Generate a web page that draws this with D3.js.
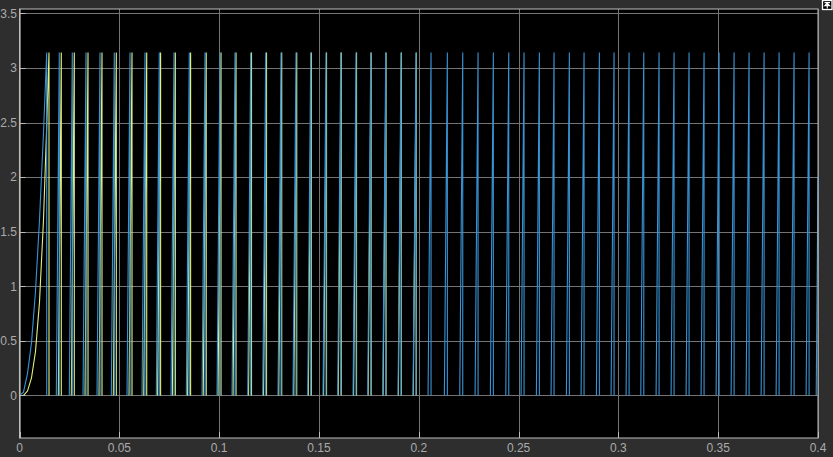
<!DOCTYPE html>
<html>
<head>
<meta charset="utf-8">
<script src="https://cdn.jsdelivr.net/npm/d3@7"></script>
<style>
  html, body { margin: 0; padding: 0; background: #2e2e2e; }
  svg { display: block; }
  .tick-label { font-family: "Liberation Sans", Arial, sans-serif; font-size: 12px; fill: #ababab; }
</style>
</head>
<body>
<svg id="scope" width="833" height="457"></svg>
<script>
// iffy wrapper
(function() {

// axis ticks
var xTicks = [0, 0.05, 0.1, 0.15, 0.2, 0.25, 0.3, 0.35, 0.4];
var xTickLabels = ['0', '0.05', '0.1', '0.15', '0.2', '0.25', '0.3', '0.35', '0.4'];
var yTicks = [0, 0.5, 1, 1.5, 2, 2.5, 3, 3.5];
var yTickLabels = ['0', '0.5', '1', '1.5', '2', '2.5', '3', '3.5'];

// wrap value at the top of each tooth, and time the ramp takes (s)
var peakValue = 3.1416;
var riseTime = 0.0015;

// first (start-up) ramp of each signal: [t, value]
var blueStart = [[0, 0], [0.002, 0.03], [0.004, 0.2], [0.006, 0.48], [0.008, 0.95],
                 [0.010, 1.6], [0.012, 2.4], [0.01363, 3.1416], [0.01363, 0]];
var yellowStart = [[0, 2.9], [0, 0], [0.002, 0], [0.004, 0.04], [0.006, 0.16], [0.008, 0.4],
                   [0.010, 0.85], [0.012, 1.6], [0.0135, 2.4], [0.01478, 3.1416], [0.01478, 0]];

// times where each signal wraps back to 0 (s)
var blueDrops = [0.01994, 0.02645, 0.03332, 0.04033, 0.04749, 0.05536, 0.06288, 0.07004,
                 0.07740, 0.08507, 0.09294, 0.10045, 0.10797, 0.11583, 0.12335, 0.13101,
                 0.13852, 0.14589, 0.15356, 0.16092, 0.16859, 0.17595, 0.18347, 0.19113,
                 0.19865, 0.20616, 0.21433, 0.22204, 0.22971, 0.23737, 0.24509, 0.25275,
                 0.26042, 0.26778, 0.27545, 0.28281, 0.29048, 0.29784, 0.30536, 0.31273,
                 0.32039, 0.32790, 0.33542, 0.34293, 0.35045, 0.35797, 0.36548, 0.37300,
                 0.38051, 0.38802, 0.39554];
var yellowDrops = [0.02094, 0.02745, 0.03432, 0.04133, 0.04850, 0.05636, 0.06373, 0.07069,
                   0.07806, 0.08572, 0.09354, 0.10095, 0.10847, 0.11623, 0.12375, 0.13136,
                   0.13888, 0.14619, 0.15381, 0.16117, 0.16884, 0.17615, 0.18362, 0.19128,
                   0.19875];

// last ramp cut by the end of the window
var blueTail = [[0.3991, 0], [0.4, 2.0]];

var svg = d3.select('#scope');

var plot = {left: 19.5, right: 818, top: 9, bottom: 438};

var x = d3.scaleLinear().domain([0, 0.4]).range([plot.left, plot.right]);
var y = d3.scaleLinear().domain([-0.39, 3.54]).range([plot.bottom, plot.top]);

var line = d3.line()
    .x(function(d) { return x(d[0]); })
    .y(function(d) { return y(d[1]); });

function teeth(drops) {
    return drops.map(function(t) {
        return [[t - riseTime, 0], [t, peakValue], [t, 0]];
    });
}

// axes background
svg.append('rect')
    .attr('x', plot.left)
    .attr('y', plot.top)
    .attr('width', plot.right - plot.left)
    .attr('height', plot.bottom - plot.top)
    .attr('fill', '#000');

// grid
var grid = svg.append('g').attr('class', 'grid');
grid.selectAll('.gx')
    .data(xTicks)
  .enter().append('line')
    .attr('x1', function(d) { return Math.round(x(d)) + 0.5; })
    .attr('x2', function(d) { return Math.round(x(d)) + 0.5; })
    .attr('y1', plot.top)
    .attr('y2', plot.bottom)
    .attr('stroke', '#747474');
grid.selectAll('.gy')
    .data(yTicks)
  .enter().append('line')
    .attr('x1', plot.left)
    .attr('x2', plot.right)
    .attr('y1', function(d) { return Math.round(y(d)) + 0.5; })
    .attr('y2', function(d) { return Math.round(y(d)) + 0.5; })
    .attr('stroke', '#747474');

// signals
var lines = svg.append('g');

var yellowTeeth = [yellowStart].concat(teeth(yellowDrops));
var blueTeeth = [blueStart].concat(teeth(blueDrops)).concat([blueTail]);

lines.selectAll('.yellow')
    .data(yellowTeeth)
  .enter().append('path')
    .attr('class', 'yellow')
    .attr('d', line)
    .attr('fill', 'none')
    .attr('stroke', '#e4f07c')
    .attr('stroke-width', 1.1);

lines.selectAll('.blue')
    .data(blueTeeth)
  .enter().append('path')
    .attr('class', 'blue')
    .attr('d', line)
    .attr('fill', 'none')
    .attr('stroke', '#3894d6')
    .attr('stroke-width', 1.1);

// inner ticks
var ticks = svg.append('g');
ticks.selectAll('.tx')
    .data(xTicks)
  .enter().append('line')
    .attr('x1', function(d) { return Math.round(x(d)) + 0.5; })
    .attr('x2', function(d) { return Math.round(x(d)) + 0.5; })
    .attr('y1', plot.bottom)
    .attr('y2', plot.bottom - 6)
    .attr('stroke', '#bdbdbd');
ticks.selectAll('.ty')
    .data(yTicks)
  .enter().append('line')
    .attr('x1', plot.left)
    .attr('x2', plot.left + 6)
    .attr('y1', function(d) { return Math.round(y(d)) + 0.5; })
    .attr('y2', function(d) { return Math.round(y(d)) + 0.5; })
    .attr('stroke', '#bdbdbd');

// box
svg.append('rect')
    .attr('x', plot.left)
    .attr('y', plot.top)
    .attr('width', plot.right - plot.left)
    .attr('height', plot.bottom - plot.top)
    .attr('fill', 'none')
    .attr('stroke', '#bdbdbd');

// tick labels
svg.append('g').selectAll('text')
    .data(xTicks)
  .enter().append('text')
    .attr('class', 'tick-label')
    .attr('x', function(d) { return x(d); })
    .attr('y', 451.5)
    .attr('text-anchor', 'middle')
    .text(function(d, i) { return xTickLabels[i]; });

svg.append('g').selectAll('text')
    .data(yTicks)
  .enter().append('text')
    .attr('class', 'tick-label')
    .attr('x', 17)
    .attr('y', function(d) { return y(d) + 4.3; })
    .attr('text-anchor', 'end')
    .text(function(d, i) { return yTickLabels[i]; });

// undock button, top right
var btn = svg.append('g');
btn.append('rect')
    .attr('x', 822.5).attr('y', 0.5)
    .attr('width', 9.5).attr('height', 9)
    .attr('fill', '#000')
    .attr('stroke', '#fff')
    .attr('stroke-width', 1.3);
btn.append('path')
    .attr('d', 'M824.5,2.6H830M827.25,3.2L824.8,5.8H829.7ZM827.25,5.5V8.5')
    .attr('fill', '#fff')
    .attr('stroke', '#fff')
    .attr('stroke-width', 1.1);

})(); // end iffy
</script>
</body>
</html>
